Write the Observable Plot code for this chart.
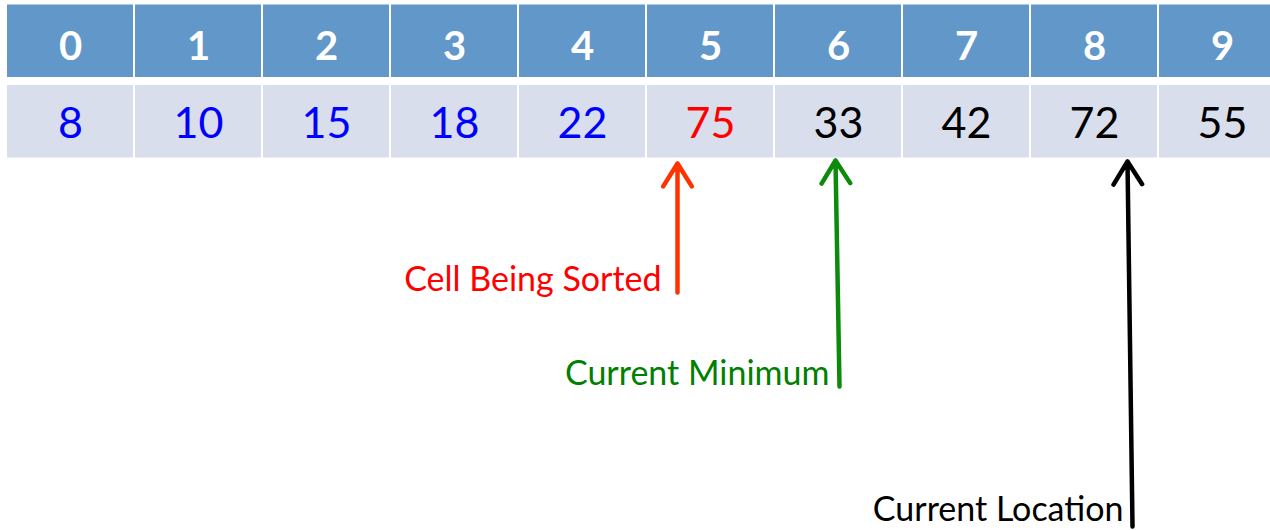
<!DOCTYPE html>
<html>
<head>
<meta charset="utf-8">
<script src="https://cdn.jsdelivr.net/npm/d3@7"></script>
<script src="https://cdn.jsdelivr.net/npm/@observablehq/plot@0.6"></script>
<style>
  html, body { margin: 0; padding: 0; background: #ffffff; }
  #chart svg { display: block; }
</style>
</head>
<body>
<div id="chart"></div>
<script>
// ---- data ----
const indices = [0, 1, 2, 3, 4, 5, 6, 7, 8, 9];
const values = [8, 10, 15, 18, 22, 75, 33, 42, 72, 55];
const states = ["sorted", "sorted", "sorted", "sorted", "sorted", "current", "unsorted", "unsorted", "unsorted", "unsorted"];
const pointerLabels = ["Cell Being Sorted", "Current Minimum", "Current Location"];
const pointerCells = [5, 6, 8];

// ---- layout (pixels -> scale units) ----
const colLeft = 7, colPitch = 128, rowTop = 4.5, rowPitch = 80.5;
const W = 1270, H = 530;
const px = v => (v - colLeft) / colPitch;
const py = v => (v - rowTop) / rowPitch;

// arrow geometry per pointer (tip x/y, tail x/y) and label anchor (right x, center y)
const pointerLayout = [
  {tip: [677, 163], tail: [677, 292], pos: [661, 280], arrow: "#ff3300", text: "#ff0000"},
  {tip: [835, 160], tail: [839, 386], pos: [829, 374], arrow: "#0c8a0c", text: "#008000"},
  {tip: [1127, 161], tail: [1132, 526], pos: [1123, 510], arrow: "#000000", text: "#000000"}
];

const cells = indices.map((i, k) => ({index: i, value: values[k], state: states[k]}));
const pointers = pointerLabels.map((name, k) => ({name, cell: pointerCells[k], ...pointerLayout[k]}));
const stateColor = {sorted: "#0000ff", current: "#ff0000", unsorted: "#000000"};

const halfGap = 1 / colPitch;

const chart = Plot.plot({
  width: W,
  height: H,
  margin: 0,
  style: {fontFamily: "Lato, 'Open Sans', sans-serif", background: "#ffffff", overflow: "visible"},
  x: {type: "linear", domain: [px(0), px(W)], range: [0, W], axis: null},
  y: {type: "linear", domain: [py(0), py(H)], range: [0, H], axis: null},
  marks: [
    // header row
    Plot.rect(cells, {
      x1: d => d.index, x2: d => d.index + 1,
      y1: () => 0, y2: () => 1,
      fill: "#6297c9", insetRight: 2, insetBottom: 8
    }),
    // value row
    Plot.rect(cells, {
      x1: d => d.index, x2: d => d.index + 1,
      y1: () => 1, y2: () => 2,
      fill: "#d9deec", insetRight: 2, insetBottom: 8
    }),
    // header labels
    Plot.text(cells, {
      x: d => d.index + 0.5 - halfGap,
      y: () => py(47),
      text: d => String(d.index),
      fill: "#ffffff", fontSize: 40, fontWeight: "bold"
    }),
    // values
    Plot.text(cells, {
      x: d => d.index + 0.5 - halfGap,
      y: () => py(124),
      text: d => String(d.value),
      fill: d => stateColor[d.state], fontSize: 43
    }),
    // arrows
    Plot.arrow(pointers, {
      x1: d => px(d.tail[0]), y1: d => py(d.tail[1]),
      x2: d => px(d.tip[0]), y2: d => py(d.tip[1]),
      stroke: d => d.arrow, strokeWidth: 4.5, headLength: 9, headAngle: 64,
      strokeLinecap: "round", strokeLinejoin: "round"
    }),
    // pointer labels
    Plot.text(pointers, {
      x: d => px(d.pos[0]), y: d => py(d.pos[1]),
      text: d => d.name, textAnchor: "end",
      fill: d => d.text, fontSize: 34
    })
  ]
});

document.getElementById("chart").appendChild(chart);
</script>
</body>
</html>
